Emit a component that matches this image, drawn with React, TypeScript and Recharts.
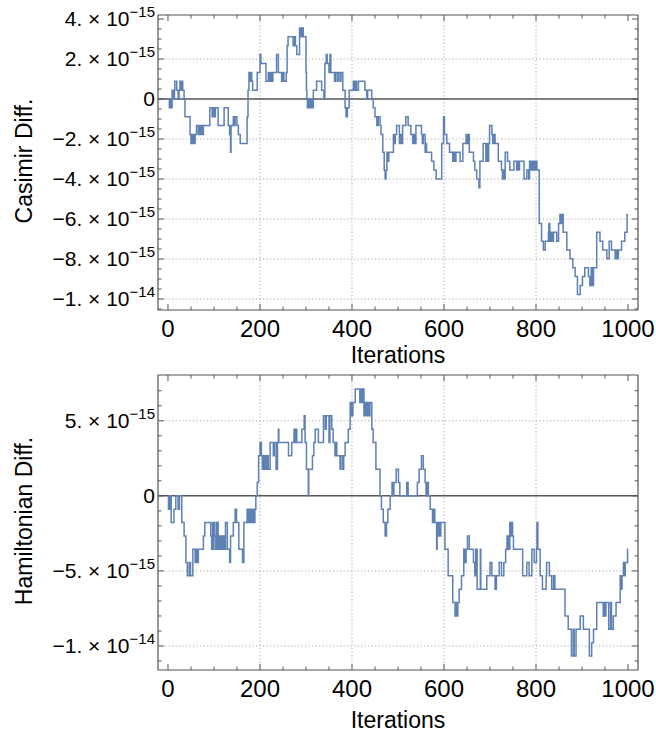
import React from 'react';
import { LineChart, Line, XAxis, YAxis, ReferenceLine, ReferenceArea } from 'recharts';

// step levels, values in units of 1e-15
const casimirSteps: [number, number][] = [
  [0, 0], [3, -0.44], [5, 0], [7, -0.44], [9, 0.44], [12, 0], [14, 0.44], [15, 0.89], [19, 0.44], [22, 0],
  [24, 0.44], [26, 0.89], [28, 0.44], [29, 0.89], [32, 0.44], [35, 0], [37, -0.89], [48, -1.78], [50, -2.22],
  [51, -1.78], [53, -2.22], [55, -1.78], [57, -2.22], [59, -1.78], [62, -1.33], [66, -1.78], [68, -1.33],
  [70, -1.78], [72, -1.33], [74, -1.78], [77, -1.33], [91, -0.44], [96, -0.89], [98, -0.44], [100, -0.89],
  [103, -0.44], [109, -1.33], [122, -0.44], [131, -1.33], [134, -1.78], [136, -2.66], [137, -1.33],
  [142, -0.89], [144, -1.33], [146, -0.89], [150, -1.33], [153, -1.78], [157, -2.22], [172, -0.89],
  [174, 0.44], [176, 1.33], [178, 0.89], [180, 1.33], [182, 0.89], [184, 0.44], [194, 1.33], [200, 2.22],
  [202, 1.78], [213, 0.89], [218, 1.33], [221, 0.89], [223, 1.33], [226, 0.89], [228, 1.33], [236, 2.22],
  [240, 1.33], [247, 0.89], [250, 1.33], [252, 0.89], [257, 1.33], [259, 2.66], [261, 3.11], [272, 2.66],
  [275, 3.11], [277, 2.66], [280, 2.22], [286, 3.55], [289, 3.11], [291, 3.55], [294, 3.11], [300, 1.33],
  [301, 0.44], [302, 0], [303, -0.44], [306, 0], [308, -0.44], [311, 0], [314, -0.44], [316, 0.44],
  [323, 0.89], [334, 0.44], [339, 0], [341, 1.78], [344, 2.22], [346, 1.78], [350, 1.33], [352, 2.22],
  [354, 1.33], [362, 0.89], [364, 1.33], [368, 0.89], [370, 1.33], [374, 0.89], [376, 1.33], [380, 0.44],
  [385, -0.44], [387, -0.89], [390, -0.44], [394, 0.44], [403, 0.89], [405, 0.44], [408, 0.89], [410, 0.44],
  [414, 0.89], [428, 0.44], [432, 0], [434, 0.44], [443, 0], [446, -0.44], [450, -0.89], [454, -1.33],
  [457, -0.89], [461, -1.33], [463, -1.78], [467, -2.66], [470, -3.55], [472, -4.0], [474, -3.55],
  [476, -2.66], [478, -3.11], [480, -2.66], [490, -1.78], [492, -2.22], [494, -1.78], [497, -1.33],
  [503, -2.22], [505, -1.78], [507, -2.22], [510, -1.33], [517, -0.89], [522, -1.33], [528, -1.78],
  [532, -2.22], [534, -1.78], [536, -2.22], [539, -1.33], [551, -1.78], [553, -2.22], [555, -1.78],
  [559, -2.66], [560, -2.22], [562, -2.66], [573, -3.11], [578, -3.55], [583, -4.0], [595, -2.22],
  [599, -0.89], [601, -1.78], [606, -2.22], [612, -2.66], [619, -3.11], [621, -2.66], [623, -3.11],
  [626, -2.66], [635, -3.11], [641, -2.22], [648, -1.78], [650, -2.22], [652, -1.78], [655, -2.66],
  [664, -3.11], [667, -3.55], [671, -4.0], [676, -4.44], [678, -3.11], [685, -2.22], [691, -3.11],
  [693, -2.22], [695, -3.11], [697, -2.22], [699, -1.33], [704, -1.78], [706, -2.22], [708, -1.78],
  [711, -2.22], [718, -3.11], [725, -3.55], [727, -4.0], [729, -3.55], [731, -4.0], [733, -2.66],
  [738, -3.11], [743, -3.55], [752, -3.11], [758, -3.55], [760, -3.11], [762, -3.55], [764, -3.11],
  [774, -4.0], [780, -3.55], [784, -4.0], [786, -3.11], [789, -3.55], [791, -3.11], [794, -3.55],
  [796, -3.11], [798, -3.55], [800, -3.11], [802, -3.55], [807, -6.22], [812, -7.11], [816, -7.55],
  [820, -7.11], [827, -6.66], [828, -6.22], [830, -7.11], [832, -6.66], [835, -7.11], [838, -6.66],
  [845, -7.11], [849, -6.22], [852, -5.77], [854, -6.22], [856, -5.77], [859, -6.66], [867, -7.55],
  [874, -7.99], [880, -8.44], [885, -8.88], [890, -9.77], [896, -9.33], [901, -8.88], [906, -8.44],
  [914, -8.88], [917, -9.33], [920, -8.44], [922, -9.33], [925, -8.44], [932, -6.66], [939, -7.11],
  [945, -7.55], [954, -7.99], [959, -7.11], [964, -7.55], [972, -7.99], [974, -7.55], [977, -7.99],
  [979, -7.55], [986, -7.11], [993, -6.66], [998, -5.77], [1000, -5.77],
];

const hamiltonianSteps: [number, number][] = [
  [0, 0], [1, -0.89], [4, 0], [7, -1.78], [13, -0.89], [17, 0], [22, -0.89], [25, 0], [30, -1.78],
  [35, -2.67], [39, -4.44], [42, -5.33], [46, -4.44], [49, -5.33], [54, -3.56], [59, -4.44], [61, -3.56],
  [63, -4.44], [66, -3.56], [77, -2.67], [80, -1.78], [93, -2.67], [95, -3.56], [97, -1.78], [99, -3.56],
  [100, -1.78], [102, -2.67], [104, -3.56], [106, -1.78], [109, -3.56], [111, -2.67], [113, -3.56],
  [116, -2.67], [118, -3.56], [121, -2.67], [124, -3.56], [125, -1.78], [129, -3.56], [134, -4.44],
  [136, -2.67], [142, -1.78], [146, -0.89], [149, -1.78], [154, -3.56], [162, -4.44], [165, -1.78],
  [172, -0.89], [174, -1.78], [176, -0.89], [178, -1.78], [180, -0.89], [182, -1.78], [184, -0.89],
  [186, -1.78], [189, -0.89], [191, 0], [194, 0.89], [197, 2.67], [200, 3.56], [203, 2.67], [205, 1.78],
  [207, 2.67], [209, 1.78], [211, 2.67], [213, 1.78], [215, 2.67], [218, 1.78], [222, 3.56], [229, 2.67],
  [231, 3.56], [235, 1.78], [238, 3.56], [240, 4.44], [241, 3.56], [262, 2.67], [269, 3.56], [274, 4.44],
  [276, 3.56], [278, 4.44], [280, 3.56], [291, 4.44], [296, 5.33], [298, 3.56], [301, 1.78], [305, 0],
  [306, 1.78], [314, 2.67], [317, 3.56], [320, 4.44], [327, 3.56], [338, 5.33], [342, 4.44], [344, 5.33],
  [350, 3.56], [352, 5.33], [356, 4.44], [359, 3.56], [363, 2.67], [365, 3.56], [367, 2.67], [374, 1.78],
  [376, 2.67], [380, 1.78], [382, 2.67], [385, 3.56], [392, 4.44], [396, 6.22], [399, 5.33], [402, 6.22],
  [407, 7.11], [417, 6.22], [419, 7.11], [421, 6.22], [423, 7.11], [426, 5.33], [429, 6.22], [431, 5.33],
  [434, 6.22], [436, 5.33], [439, 6.22], [443, 4.44], [446, 3.56], [452, 1.78], [461, 0], [464, -0.89],
  [468, -1.78], [472, -2.67], [475, -1.78], [478, -0.89], [483, 0], [487, 0.89], [489, 0], [491, 0.89],
  [496, 1.78], [501, 0.89], [504, 0], [519, 0.89], [522, 0], [542, 0.89], [546, 1.78], [551, 2.67],
  [555, 1.78], [559, 0.89], [561, 0], [563, 0.89], [566, 0], [570, -0.89], [575, -1.78], [577, -0.89],
  [580, -1.78], [584, -3.56], [585, -1.78], [587, -2.67], [589, -1.78], [591, -2.67], [593, -1.78],
  [602, -3.56], [609, -5.33], [619, -7.11], [624, -8.0], [626, -7.11], [628, -8.0], [630, -7.11],
  [633, -6.22], [638, -5.33], [643, -3.56], [646, -4.44], [648, -3.56], [651, -2.67], [655, -3.56],
  [664, -4.44], [667, -5.33], [669, -3.56], [672, -6.22], [679, -3.56], [680, -6.22], [693, -5.33],
  [700, -4.44], [704, -5.33], [711, -6.22], [714, -5.33], [720, -4.44], [725, -5.33], [730, -4.44],
  [734, -3.56], [737, -2.67], [740, -3.56], [743, -1.78], [745, -2.67], [747, -1.78], [749, -2.67],
  [751, -3.56], [771, -5.33], [780, -4.44], [785, -5.33], [791, -3.56], [796, -4.44], [801, -3.56],
  [802, -1.78], [804, -3.56], [809, -5.33], [814, -6.22], [822, -5.33], [823, -4.44], [829, -5.33],
  [834, -6.22], [838, -5.33], [841, -6.22], [863, -8.0], [870, -8.89], [877, -10.67], [881, -8.89],
  [883, -10.67], [887, -8.89], [896, -8.0], [903, -8.89], [916, -10.67], [921, -9.78], [925, -8.89],
  [932, -7.11], [946, -8.0], [948, -7.11], [950, -8.0], [952, -7.11], [958, -8.89], [962, -7.11],
  [964, -8.89], [968, -8.0], [974, -7.11], [983, -5.33], [985, -6.22], [987, -5.33], [990, -4.44],
  [992, -5.33], [994, -4.44], [999, -3.56], [1000, -3.56],
];

const iterTicks = [0, 50, 100, 150, 200, 250, 300, 350, 400, 450, 500, 550, 600, 650, 700, 750, 800, 850, 900, 950, 1000];
const iterLabels: Record<number, string> = { 0: '0', 200: '200', 400: '400', 600: '600', 800: '800', 1000: '1000' };
const iterGrid = [200, 400, 600, 800];

const casimirTicks = [4, 3.5, 3, 2.5, 2, 1.5, 1, 0.5, 0, -0.5, -1, -1.5, -2, -2.5, -3, -3.5, -4, -4.5, -5, -5.5, -6, -6.5, -7, -7.5, -8, -8.5, -9, -9.5, -10, -10.5];
const casimirLabels: Record<number, [string, string]> = {
  4: ['4. × 10', '−15'], 2: ['2. × 10', '−15'], 0: ['0', ''], [-2]: ['−2. × 10', '−15'], [-4]: ['−4. × 10', '−15'],
  [-6]: ['−6. × 10', '−15'], [-8]: ['−8. × 10', '−15'], [-10]: ['−1. × 10', '−14'],
};
const casimirGrid = [2, -2, -4, -6, -8, -10];

const hamiltonianTicks = [7, 6, 5, 4, 3, 2, 1, 0, -1, -2, -3, -4, -5, -6, -7, -8, -9, -10, -11];
const hamiltonianLabels: Record<number, [string, string]> = {
  5: ['5. × 10', '−15'], 0: ['0', ''], [-5]: ['−5. × 10', '−15'], [-10]: ['−1. × 10', '−14'],
};
const hamiltonianGrid = [5, -5, -10];

const FONT = '"Liberation Sans", Arial, Helvetica, sans-serif';
const FRAME = '#555555';
const LINE = '#5e81b5';
const GRID = '#a8a8a8';
const PLOT_W = 480;
const PLOT_H = 295;

// left axis draws its own ticks plus the mirrored ones on the right frame edge
const YTick = (labels: Record<number, [string, string]>) => (props: any) => {
  const { x, y, payload } = props;
  const lab = labels[payload.value];
  const len = lab ? 6 : 3.5;
  return (
    <g>
      <line x1={x} x2={x + len} y1={y} y2={y} stroke={FRAME} />
      <line x1={x + PLOT_W} x2={x + PLOT_W - len} y1={y} y2={y} stroke={FRAME} />
      {lab && (
        <text x={x - 3} y={y + 7} textAnchor="end" fontSize={21} fill="#000" fontFamily={FONT} style={{ whiteSpace: 'pre' }}>
          {lab[0]}
          {lab[1] && <tspan dy={-9} fontSize={15}>{lab[1]}</tspan>}
        </text>
      )}
    </g>
  );
};

const XTick = (props: any) => {
  const { x, y, payload } = props;
  const lab = iterLabels[payload.value];
  const len = lab ? 6 : 3.5;
  return (
    <g>
      <line x1={x} x2={x} y1={y} y2={y - len} stroke={FRAME} />
      <line x1={x} x2={x} y1={y - PLOT_H} y2={y - PLOT_H + len} stroke={FRAME} />
      {lab && (
        <text x={x} y={y + 27} textAnchor="middle" fontSize={24} fill="#000" fontFamily={FONT}>
          {lab}
        </text>
      )}
    </g>
  );
};

type PanelProps = {
  steps: [number, number][];
  height: number;
  yDomain: [number, number];
  yTicks: number[];
  yLabels: Record<number, [string, string]>;
  yGrid: number[];
  title: string;
  titleY: number;
  xTitleY: number;
};

const Panel = ({ steps, height, yDomain, yTicks, yLabels, yGrid, title, titleY, xTitleY }: PanelProps) => {
  const rows = steps.map(([it, v]) => ({ it, v }));
  return (
    <LineChart width={656} height={height} data={rows} margin={{ top: 15, right: 18, bottom: height - 360, left: 8 }}>
      <XAxis
        dataKey="it"
        type="number"
        domain={[-21.7, 1021.7]}
        allowDataOverflow
        ticks={iterTicks}
        interval={0}
        height={50}
        tickSize={0}
        tickMargin={0}
        tickLine={false}
        axisLine={false}
        tick={XTick}
        label={() => (
          <text x={398} y={xTitleY} textAnchor="middle" fontSize={23} fill="#000" fontFamily={FONT}>
            Iterations
          </text>
        )}
      />
      <YAxis
        type="number"
        domain={yDomain}
        allowDataOverflow
        ticks={yTicks}
        interval={0}
        width={150}
        tickSize={0}
        tickMargin={0}
        tickLine={false}
        axisLine={false}
        tick={YTick(yLabels)}
        label={() => (
          <text
            x={24}
            y={titleY}
            transform={`rotate(-90 24 ${titleY})`}
            textAnchor="middle"
            dominantBaseline="central"
            fontSize={23}
            fill="#000"
            fontFamily={FONT}
          >
            {title}
          </text>
        )}
      />
      {iterGrid.map((g) => (
        <ReferenceLine key={'x' + g} x={g} stroke={GRID} strokeDasharray="1.2 2.3" />
      ))}
      {yGrid.map((g) => (
        <ReferenceLine key={'y' + g} y={g} stroke={GRID} strokeDasharray="1.2 2.3" />
      ))}
      <ReferenceLine y={0} stroke="#000" strokeWidth={1} />
      <ReferenceArea
        x1={-21.7}
        x2={1021.7}
        y1={yDomain[0]}
        y2={yDomain[1]}
        fill="none"
        fillOpacity={0}
        stroke={FRAME}
        strokeWidth={1.2}
        ifOverflow="extendDomain"
      />
      <Line
        type="stepAfter"
        dataKey="v"
        stroke={LINE}
        strokeWidth={1.5}
        dot={false}
        isAnimationActive={false}
      />
    </LineChart>
  );
};

export default function App() {
  return (
    <div style={{ position: 'absolute', left: 0, top: 0, width: 656, height: 739, background: '#fff', fontFamily: FONT }}>
      <div style={{ position: 'absolute', left: 0, top: 0 }}>
        <Panel
          steps={casimirSteps}
          height={370}
          yDomain={[-10.55, 4.2]}
          yTicks={casimirTicks}
          yLabels={casimirLabels}
          yGrid={casimirGrid}
          title="Casimir Diff."
          titleY={161}
          xTitleY={363}
        />
      </div>
      <div style={{ position: 'absolute', left: 0, top: 360 }}>
        <Panel
          steps={hamiltonianSteps}
          height={379}
          yDomain={[-11.6, 8.05]}
          yTicks={hamiltonianTicks}
          yLabels={hamiltonianLabels}
          yGrid={hamiltonianGrid}
          title="Hamiltonian Diff."
          titleY={161}
          xTitleY={368}
        />
      </div>
    </div>
  );
}
